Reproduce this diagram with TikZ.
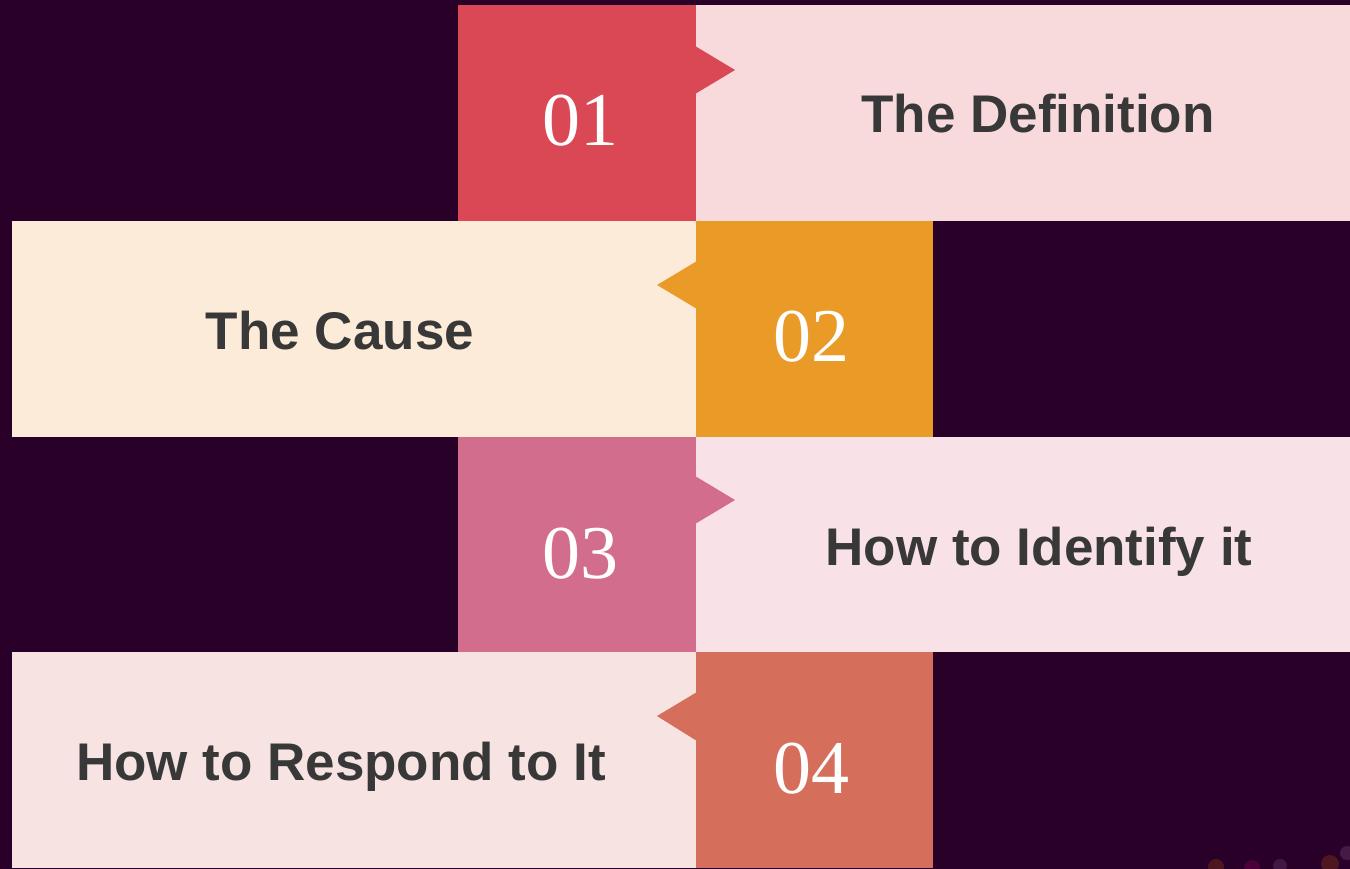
\documentclass[tikz,border=0pt]{standalone}
\usepackage{fontspec}
\setmainfont{Liberation Serif}
\newfontfamily\headfont{Liberation Sans}

\definecolor{bgpurple}{HTML}{280028}
\definecolor{redbox}{HTML}{DB4855}
\definecolor{redlight}{HTML}{F8D9DC}
\definecolor{orangebox}{HTML}{EA9B27}
\definecolor{orangelight}{HTML}{FBEBD8}
\definecolor{pinkbox}{HTML}{D36D8E}
\definecolor{pinklight}{HTML}{F8E2E8}
\definecolor{salmonbox}{HTML}{D56E5A}
\definecolor{salmonlight}{HTML}{F7E3E1}
\definecolor{headgray}{HTML}{383838}

\tikzset{
  numlabel/.style={anchor=base, inner sep=0pt, text=white, font=\fontsize{76}{76}\selectfont},
  headlabel/.style={anchor=base, inner sep=0pt, text=headgray, font=\headfont\bfseries\fontsize{53}{53}\selectfont},
  blob/.style={opacity=0.18}
}

\begin{document}
\begin{tikzpicture}[x=1pt,y=-1pt]
\useasboundingbox (0,0) rectangle (1350,869);
\fill[bgpurple] (-3,-3) rectangle (1353,872);
% row 1
\fill[redlight] (696,5) rectangle (1353,221);
\fill[redbox] (458,5) rectangle (696,221);
\fill[redbox] (695,46) -- (735,70) -- (695,94) -- cycle;
\node[numlabel] (num1) at (580,146) {01};
\node[headlabel] (head1) at (1038,133) {The Definition};
% row 2
\fill[orangelight] (12,221) rectangle (696,437);
\fill[orangebox] (696,221) rectangle (933,437);
\fill[orangebox] (697,261) -- (657,285) -- (697,309) -- cycle;
\node[numlabel] (num2) at (811,361) {02};
\node[headlabel] (head2) at (340,349) {The Cause};
% row 3
\fill[pinklight] (696,437) rectangle (1353,652);
\fill[pinkbox] (458,437) rectangle (696,652);
\fill[pinkbox] (695,476) -- (735,500) -- (695,524) -- cycle;
\node[numlabel] (num3) at (580,578) {03};
\node[headlabel] (head3) at (1039,565) {How to Identify it};
% row 4
\fill[salmonlight] (12,652) rectangle (696,868);
\fill[salmonbox] (696,652) rectangle (933,868);
\fill[salmonbox] (697,692) -- (657,716) -- (697,741) -- cycle;
\node[numlabel] (num4) at (811,793) {04};
\node[headlabel] (head4) at (341,780) {How to Respond to It};
% faint blobs, bottom right
\fill[orange, blob] (1216,867) circle (8);
\fill[magenta, blob] (1252,868) circle (8);
\fill[violet!50, blob] (1280,866) circle (7);
\fill[orange, blob] (1330,864) circle (9);
\fill[violet!40, blob] (1347,853) circle (7);
\end{tikzpicture}
\end{document}
